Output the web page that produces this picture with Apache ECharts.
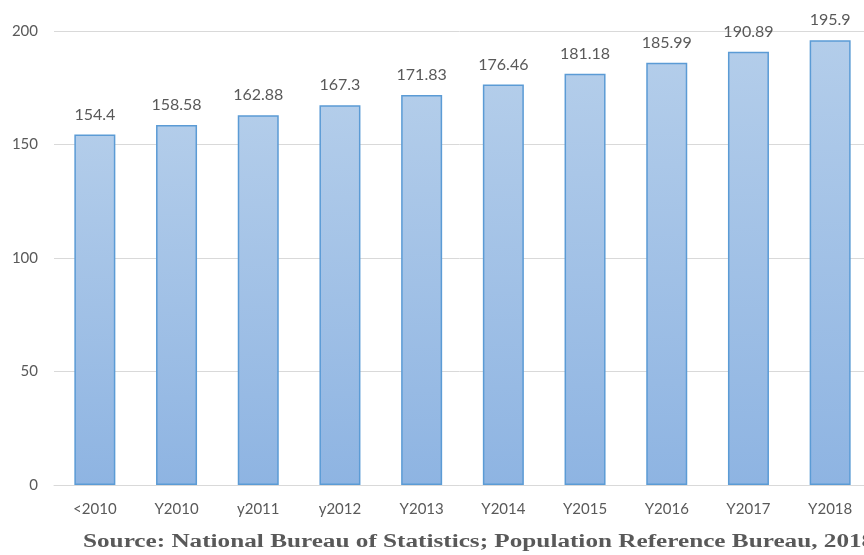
<!DOCTYPE html>
<html>
<head>
<meta charset="utf-8">
<script src="https://cdn.jsdelivr.net/npm/echarts@6/dist/echarts.min.js"></script>
<style>
  html, body { margin: 0; padding: 0; background: #fff; }
  #chart { width: 864px; height: 555px; }
</style>
</head>
<body>
<div id="chart"></div>
<script>
const categories = ["<2010", "Y2010", "y2011", "y2012", "Y2013", "Y2014", "Y2015", "Y2016", "Y2017", "Y2018"];
const values = [154.4, 158.58, 162.88, 167.3, 171.83, 176.46, 181.18, 185.99, 190.89, 195.9];
const sourceText = "Source: National Bureau of Statistics; Population Reference Bureau, 2018";

const chart = echarts.init(document.getElementById("chart"));
const option = {
  animation: false,
  grid: {
    left: 54,
    width: 817,
    top: 31,
    bottom: 70,
    outerBoundsMode: "none"
  },
  xAxis: {
    type: "category",
    data: categories,
    axisLine: { lineStyle: { color: "#d9d9d9", width: 1 } },
    axisTick: { show: false },
    axisLabel: {
      color: "#595959",
      fontFamily: "Lato",
      fontSize: 15,
      margin: 17
    }
  },
  yAxis: {
    type: "value",
    min: 0,
    max: 200,
    interval: 50,
    axisLine: { show: false },
    axisTick: { show: false },
    splitLine: { lineStyle: { color: "#d9d9d9", width: 1 } },
    axisLabel: {
      color: "#595959",
      fontFamily: "Lato",
      fontSize: 15,
      margin: 16
    }
  },
  series: [{
    type: "bar",
    data: values,
    barWidth: 41,
    itemStyle: {
      color: new echarts.graphic.LinearGradient(0, 0, 0, 1, [
        { offset: 0, color: "#b3cdea" },
        { offset: 1, color: "#8eb4e2" }
      ]),
      borderColor: "#5b9bd5",
      borderWidth: 1.5
    },
    label: {
      show: true,
      position: "top",
      distance: 12,
      color: "#595959",
      fontFamily: "Lato",
      fontSize: 16
    }
  }],
  graphic: [{
    type: "text",
    x: 83,
    y: 533,
    scaleX: 1.4,
    style: {
      text: sourceText,
      fill: "#595959",
      font: "bold 18px 'Liberation Serif'"
    }
  }]
};
chart.setOption(option);
</script>
</body>
</html>
